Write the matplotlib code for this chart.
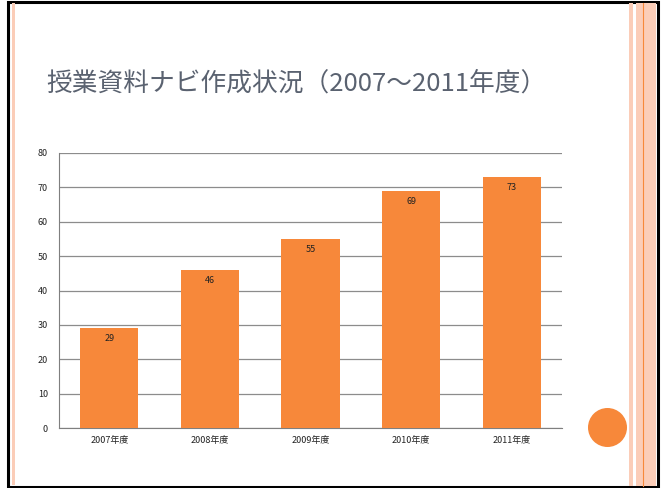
import matplotlib
matplotlib.use("Agg")
import matplotlib.pyplot as plt
from matplotlib.patches import Rectangle, Circle

plt.rcParams["font.family"] = ["Noto Sans CJK JP", "DejaVu Sans"]

# データ
years = ["2007年度", "2008年度", "2009年度", "2010年度", "2011年度"]
counts = [29, 46, 55, 69, 73]
title = "授業資料ナビ作成状況（2007～2011年度）"

W, H = 664, 488
fig = plt.figure(figsize=(W / 100, H / 100), dpi=100)


def px(x0, y0, w, h):
    # ピクセル座標(左上原点)を figure 座標へ
    return (x0 / W, 1 - (y0 + h) / H, w / W, h / H)


# スライド装飾
bg = fig.add_axes([0, 0, 1, 1])
bg.set_xlim(0, W)
bg.set_ylim(H, 0)
bg.axis("off")
peach = "#FBCDB8"
bg.add_patch(Rectangle((8, 1.5), 650, 485, fill=False, ec="black", lw=2.2))
bg.add_patch(Rectangle((11.5, 3), 3, 482, fc=peach, ec="none"))
bg.add_patch(Rectangle((629, 2.5), 4, 483, fc=peach, ec="none"))
bg.add_patch(Rectangle((636, 2.5), 20, 483, fc=peach, ec="none"))
bg.plot([642.5, 642.5], [2.5, 485.5], color="#F7883A", lw=0.8)
bg.add_patch(Circle((607.5, 427.5), 19.5, fc="#F7883A", ec="none"))
bg.text(46, 84, title, fontsize=18.5, color="#5A6270", va="center", ha="left")

# 棒グラフ
ax = fig.add_axes(px(59, 153, 503, 275))
x = range(len(years))
bars = ax.bar(x, counts, width=0.58, color="#F7883A", zorder=3)
ax.set_xlim(-0.5, len(years) - 0.5)
ax.set_ylim(0, 80)
ax.set_yticks(range(0, 81, 10))
ax.set_xticks(list(x))
ax.set_xticklabels(years)
ax.tick_params(axis="both", labelsize=6.5, length=0, colors="#222222", pad=6)
ax.tick_params(axis="y", pad=8)
ax.grid(axis="y", color="#8C8C8C", lw=0.9, zorder=0)
for side in ["top", "right"]:
    ax.spines[side].set_visible(False)
ax.spines["left"].set_color("#7F7F7F")
ax.spines["bottom"].set_color("#7F7F7F")
for rect, v in zip(bars, counts):
    ax.text(rect.get_x() + rect.get_width() / 2, v - 3.0, str(v),
            ha="center", va="center", fontsize=6.5, color="#222222", zorder=4)

fig.savefig("out.png", dpi=100)
